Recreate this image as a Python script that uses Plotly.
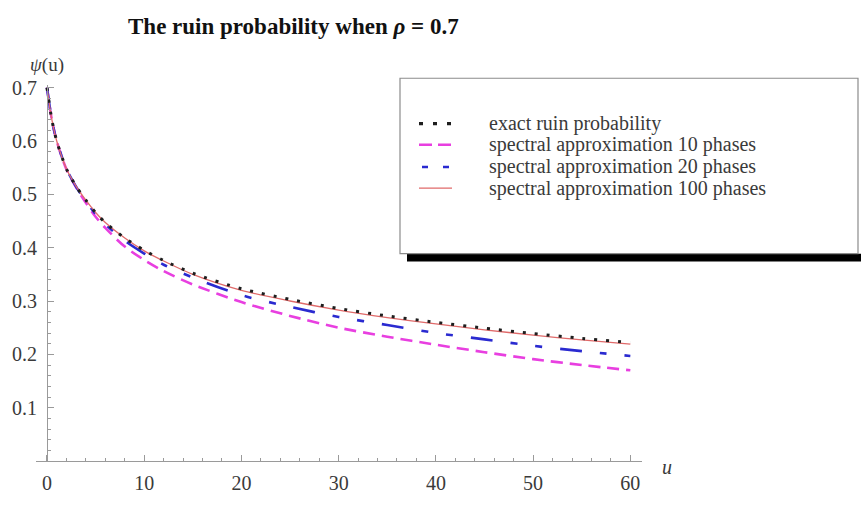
import plotly.graph_objects as go

# Capital u and ruin probability psi(u), rho = 0.7
u = [0, 0.5, 1, 2, 3, 4, 5, 6, 8, 10, 12, 15, 20, 25, 30, 35, 40, 45, 50, 55, 60]
psi_exact = [0.700, 0.640, 0.600, 0.548, 0.515, 0.489, 0.466, 0.447, 0.418, 0.395,
             0.376, 0.352, 0.323, 0.303, 0.286, 0.272, 0.260, 0.249, 0.239, 0.230, 0.222]
psi_10 = [0.700, 0.640, 0.600, 0.547, 0.513, 0.484, 0.458, 0.437, 0.402, 0.377,
          0.356, 0.331, 0.298, 0.272, 0.250, 0.233, 0.218, 0.204, 0.191, 0.180, 0.170]
psi_20 = [0.700, 0.640, 0.600, 0.548, 0.514, 0.487, 0.463, 0.444, 0.413, 0.389,
          0.368, 0.344, 0.311, 0.289, 0.270, 0.255, 0.240, 0.228, 0.216, 0.206, 0.197]
psi_100 = [0.700, 0.640, 0.600, 0.548, 0.515, 0.489, 0.466, 0.447, 0.418, 0.394,
           0.375, 0.350, 0.320, 0.300, 0.283, 0.269, 0.257, 0.246, 0.236, 0.227, 0.219]

series_names = ["exact ruin probability",
                "spectral approximation 10 phases",
                "spectral approximation 20 phases",
                "spectral approximation 100 phases"]

y_ticks = [0.1, 0.2, 0.3, 0.4, 0.5, 0.6, 0.7]
x_ticks = [0, 10, 20, 30, 40, 50, 60]

W, H = 861, 506
ML, MR, MT, MB = 36, 219, 85, 31
PW, PH = W - ML - MR, H - MT - MB


def px(x):
    return (x - ML) / PW


def py(y):
    return (H - MB - y) / PH


FONT = "Liberation Serif, Times New Roman, serif"
AXIS = "#9a9a9a"
TXT = "#3a3a3a"

colors = ["#1e1e1e", "#e83fe0", "#2a2ad0", "#e06a6a"]
dashes = ["3px,9px", "12px,7px", "22px,18px,7px,18px,7px,18px", "solid"]
widths = [3, 2.6, 2.6, 1.3]
values = [psi_exact, psi_10, psi_20, psi_100]

fig = go.Figure()
for i in [1, 2, 3, 0]:
    fig.add_trace(go.Scatter(
        x=u, y=values[i], mode="lines", name=series_names[i],
        line=dict(color=colors[i], width=widths[i], dash=dashes[i],
                  shape="spline", smoothing=0.8),
        showlegend=False, hoverinfo="skip"))

# legend box with heavy bottom shadow
box_l, box_t, box_r, box_b = 400, 78, 858, 260
shapes = [
    dict(type="rect", xref="paper", yref="paper",
         x0=px(407), x1=px(870), y0=py(box_b), y1=py(268),
         fillcolor="black", line=dict(width=0), layer="above"),
    dict(type="rect", xref="paper", yref="paper",
         x0=px(box_l), x1=px(box_r), y0=py(box_b), y1=py(box_t),
         fillcolor="white", line=dict(color="#8c8c8c", width=1.2), layer="above"),
]
rows = [125, 147, 170, 192]
samples = [(419, 452, "4px,10px", 3.2), (419, 452, "13px,6px", 2.6),
           (422, 452, "6px,15px", 2.6), (419, 452, "solid", 1.3)]
annotations = []
for k in range(4):
    x0, x1, d, w = samples[k]
    shapes.append(dict(type="line", xref="paper", yref="paper",
                       x0=px(x0), x1=px(x1), y0=py(rows[k]), y1=py(rows[k]),
                       line=dict(color=colors[k], width=w, dash=d), layer="above"))
    annotations.append(dict(x=px(487), y=py(rows[k]), xref="paper", yref="paper",
                            text=series_names[k], showarrow=False, xanchor="left",
                            yanchor="middle", font=dict(family=FONT, size=20, color=TXT)))

annotations += [
    dict(x=px(293), y=py(24), xref="paper", yref="paper",
         text="<b>The ruin probability when <i>ρ</i> = 0.7</b>", showarrow=False,
         xanchor="center", yanchor="middle", font=dict(family=FONT, size=23, color="#111")),
    dict(x=px(47), y=py(64), xref="paper", yref="paper",
         text="<i>ψ</i>(u)", showarrow=False, xanchor="center", yanchor="middle",
         font=dict(family=FONT, size=19, color=TXT)),
    dict(x=px(667), y=py(481), xref="paper", yref="paper",
         text="<i>u</i>", showarrow=False, xanchor="center", yanchor="middle",
         font=dict(family=FONT, size=20, color=TXT)),
]

fig.update_layout(
    width=W, height=H,
    margin=dict(l=ML, r=MR, t=MT, b=MB),
    paper_bgcolor="white", plot_bgcolor="white",
    showlegend=False,
    shapes=shapes, annotations=annotations,
    xaxis=dict(range=[-1.13, 61.2], showgrid=False, zeroline=False,
               showline=True, linecolor=AXIS, linewidth=1.2,
               tickmode="array", tickvals=x_ticks, ticktext=[str(t) for t in x_ticks],
               ticks="inside", ticklen=6, tickcolor=AXIS, tickwidth=1,
               minor=dict(tickmode="linear", tick0=0, dtick=2, ticks="inside",
                          ticklen=3, tickcolor=AXIS, showgrid=False),
               tickfont=dict(family=FONT, size=20, color=TXT),
               ticklabelstandoff=4,
               fixedrange=True),
    yaxis=dict(range=[0, 0.705], showgrid=False, zeroline=False,
               anchor="free", position=px(47) - px(ML),
               showline=True, linecolor=AXIS, linewidth=1.2,
               tickmode="array", tickvals=y_ticks, ticktext=[f"{t:.1f}" for t in y_ticks],
               ticks="inside", ticklen=6, tickcolor=AXIS, tickwidth=1,
               minor=dict(tickmode="linear", tick0=0, dtick=0.02, ticks="inside",
                          ticklen=3, tickcolor=AXIS, showgrid=False),
               tickfont=dict(family=FONT, size=20, color=TXT),
               ticklabelstandoff=6,
               fixedrange=True),
)

fig.write_html("out.html")
